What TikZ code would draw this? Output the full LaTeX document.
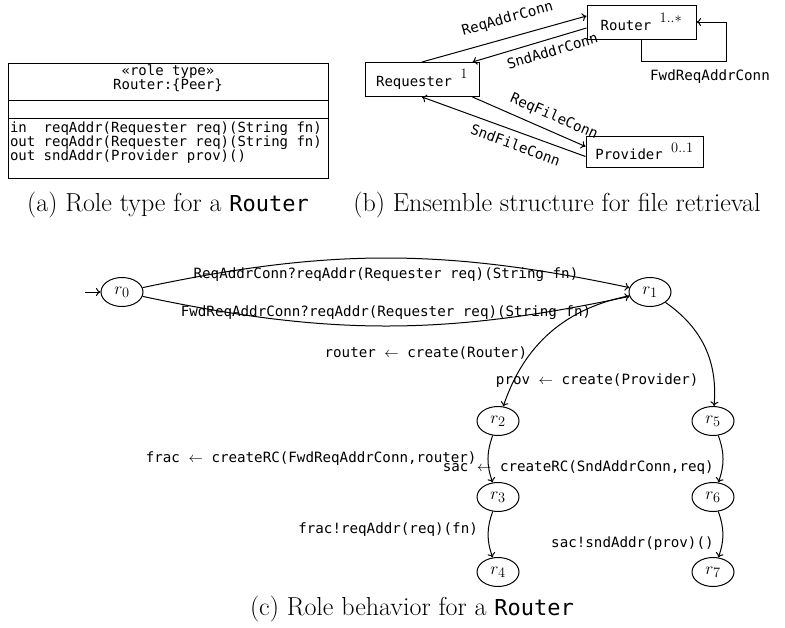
\documentclass[tikz,border=0pt]{standalone}
\usepackage{fontspec}
\setmonofont{DejaVu Sans Mono}
\usetikzlibrary{shapes.geometric,arrows.meta}

\begin{document}
\begin{tikzpicture}[x=1pt,y=1pt,
  line width=1pt,
  >={To[length=4.5pt,width=8pt]},
  mono/.style={font=\fontsize{14}{14.3}\selectfont\ttfamily},
  lbl/.style={font=\fontsize{14.2}{14.5}\selectfont\ttfamily, inner sep=2pt},
  cls/.style={draw, mono, minimum height=34pt, inner xsep=8pt},
  st/.style={draw, ellipse, minimum width=42pt, minimum height=29pt, inner sep=0pt,
             font=\fontsize{19}{23}\selectfont},
  captext/.style={font=\fontsize{26}{31}\selectfont},
  conn/.style={line width=1pt},
]
\newcommand\capmono[1]{{\fontsize{22}{28}\selectfont\ttfamily #1}}
\newcommand\mult[1]{{\fontsize{20}{20}\selectfont$^{#1}$}}
\useasboundingbox (0,0) rectangle (785,-627);

% ---------- (a) role type ----------
\node[draw, minimum width=320pt, minimum height=115pt, anchor=north west, inner sep=0pt]
  (rtbox) at (8,-63) {};
\draw ([yshift=-37pt]rtbox.north west) -- ([yshift=-37pt]rtbox.north east);
\draw ([yshift=-55pt]rtbox.north west) -- ([yshift=-55pt]rtbox.north east);
\node[mono, align=center] (rtname) at (168,-78) {«role type»\\Router:\{Peer\}};
\node[mono, align=left, anchor=north west, inner sep=0pt] (rtops) at (9.5,-121)
  {in~~reqAddr(Requester req)(String fn)\\
   out reqAddr(Requester req)(String fn)\\
   out sndAddr(Provider prov)()};
\node[captext] (capA) at (168,-205) {(a) Role type for a \capmono{Router}};

% ---------- (b) ensemble structure ----------
\node[cls, minimum width=109pt] (router) at (641.5,-22) {Router \mult{1..*}};
\node[cls, minimum width=114pt] (req) at (422,-79.5) {Requester \mult{1}};
\node[cls, minimum width=117pt, minimum height=31pt] (prov) at (644.5,-151.5) {Provider \mult{0..1}};

\draw[conn,->] (req.north) -- node[lbl, sloped, above=9pt, pos=0.55] {ReqAddrConn}
  ([yshift=6pt]router.west);
\draw[conn,<-] ([xshift=-7pt]req.north east) -- node[lbl, sloped, below=4pt, pos=0.67] {SndAddrConn}
  ([yshift=-6pt]router.west);
\draw[conn,->] ([xshift=-7pt]req.south east) -- node[lbl, sloped, above=5pt, pos=0.67] {ReqFileConn}
  ([yshift=5pt]prov.west);
\draw[conn,<-] (req.south) -- node[lbl, sloped, below=5pt, pos=0.6] {SndFileConn}
  ([yshift=-5pt]prov.west);

\coordinate (loopcorner) at (726,-61);
\draw[conn,->] (router.south) |- (loopcorner) |- (router.east);
\node[lbl] (fwdlbl) at (710,-77) {FwdReqAddrConn};

\node[captext] (capB) at (557,-205) {(b) Ensemble structure for file retrieval};

% ---------- (c) role behaviour ----------
\node[st] (r0) at (122,-292) {$r_0$};
\node[st] (r1) at (650,-292) {$r_1$};
\node[st] (r2) at (498,-421) {$r_2$};
\node[st] (r3) at (498,-497) {$r_3$};
\node[st] (r4) at (498,-572) {$r_4$};
\node[st] (r5) at (713,-421) {$r_5$};
\node[st] (r6) at (713,-497) {$r_6$};
\node[st] (r7) at (713,-572) {$r_7$};

\coordinate (init) at (85,-292);
\draw[conn,->] (init) -- (r0);

\draw[conn,->] (r0) to[bend left=12]
  node[lbl, below=7pt, midway] {ReqAddrConn?reqAddr(Requester req)(String fn)} (r1);
\draw[conn,->] (r0) to[bend right=12]
  node[lbl, above=4pt, midway] {FwdReqAddrConn?reqAddr(Requester req)(String fn)} (r1);

\draw[conn,->] (r1) to[bend right=30]
  node[lbl, left=1pt, pos=0.67] {router $\leftarrow$ create(Router)} (r2);
\draw[conn,->] (r1) to[bend left=30]
  node[lbl, left=13pt, pos=0.8] {prov $\leftarrow$ create(Provider)} (r5);

\draw[conn,->] (r2) to[bend right=20]
  node[lbl, left=9pt, pos=0.48] {frac $\leftarrow$ createRC(FwdReqAddrConn,router)} (r3);
\draw[conn,->] (r3) to[bend right=20]
  node[lbl, left=8pt, pos=0.38] {frac!reqAddr(req)(fn)} (r4);
\draw[conn,->] (r5) to[bend left=20]
  node[lbl, left=6pt, pos=0.7] {sac $\leftarrow$ createRC(SndAddrConn,req)} (r6);
\draw[conn,->] (r6) to[bend left=20]
  node[lbl, left=6pt, pos=0.7] {sac!sndAddr(prov)()} (r7);

\node[captext] (capC) at (412,-609) {(c) Role behavior for a \capmono{Router}};
\end{tikzpicture}
\end{document}
